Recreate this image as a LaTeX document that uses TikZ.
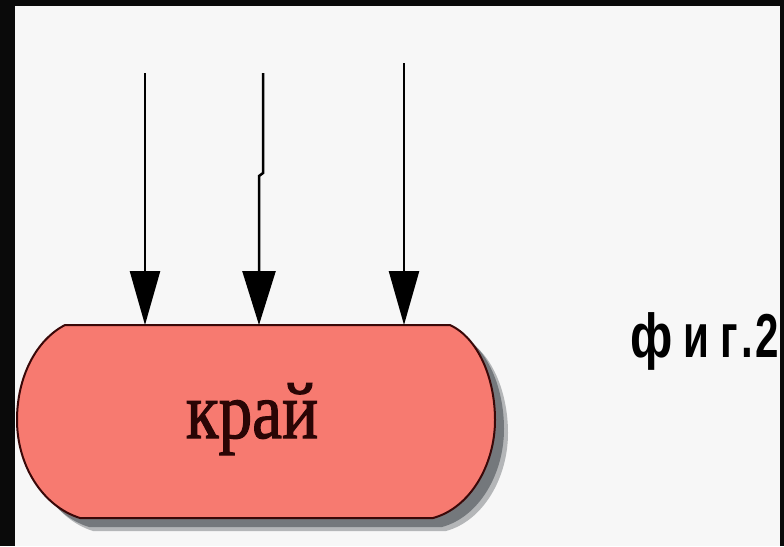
\documentclass[tikz,border=0pt]{standalone}
\usepackage{fontspec}
\setmainfont{Liberation Serif}
\newfontfamily\figfont{Liberation Sans}
\newfontfamily\labelfont[FakeBold=1.6]{Liberation Serif}
\usetikzlibrary{arrows.meta}
\definecolor{bg}{HTML}{F7F7F7}
\definecolor{framecol}{HTML}{0A0A0A}
\definecolor{salmonfill}{HTML}{F77A70}
\definecolor{edgebrown}{HTML}{3A0808}
\definecolor{shadowdark}{HTML}{74787C}
\definecolor{shadowlight}{HTML}{B4B6B8}
\definecolor{txtbrown}{HTML}{2A0505}
\newcommand\capsulepath{(65,325) -- (450,325) .. controls (478,338) and (495,378) .. (495,420) .. controls (495,465) and (470,508) .. (433,518) -- (80,518) .. controls (42,506) and (17,465) .. (17,420) .. controls (17,377) and (36,340) .. (65,325) -- cycle}
\begin{document}
\begin{tikzpicture}[x=1pt,y=-1pt,
  flow/.style={draw=black,line width=2.5pt,-{Triangle[length=54pt,width=30pt]}},
  flowwide/.style={flow,-{Triangle[length=54pt,width=33pt]}},
  capsule/.style={fill=salmonfill,draw=edgebrown,line width=2pt},
  labeltxt/.style={text=txtbrown,font=\labelfont\fontsize{80}{80}\selectfont,inner sep=0pt},
  figtxt/.style={text=black,font=\figfont\bfseries\fontsize{62}{62}\selectfont,inner sep=0pt}]
\useasboundingbox (0,0) rectangle (784,546);
\fill[framecol] (0,0) rectangle (784,546);
\fill[bg] (15,6) rectangle (780,546);
\begin{scope}
\clip (15,6) rectangle (780,546);
% shadow
\begin{scope}[shift={(13,13)}]
\fill[shadowlight] \capsulepath;
\end{scope}
\begin{scope}[shift={(9,9)}]
\fill[shadowdark] \capsulepath;
\end{scope}
% main shape
\path[capsule] \capsulepath;
\node[labeltxt,anchor=base] (edge) at (252,438) {\scalebox{0.84}[1]{край}};
% arrow coordinates
\coordinate (s1) at (145,73);
\coordinate (t1) at (145,325);
\coordinate (s2) at (263,73);
\coordinate (j1) at (263,173);
\coordinate (j2) at (259,176);
\coordinate (t2) at (259,325);
\coordinate (s3) at (404,63);
\coordinate (t3) at (404,325);
\draw[flow] (s1) -- (t1);
\draw[flowwide] (s2) -- (j1) -- (j2) -- (t2);
\draw[flow] (s3) -- (t3);
% caption
\node[figtxt,anchor=base west] (cap) at (630,357) {\scalebox{0.78}[1]{ф}\hspace{11pt}\scalebox{0.68}[1]{и}\hspace{11pt}\scalebox{0.68}[1]{г}\hspace{3pt}\scalebox{0.68}[1]{.}\hspace{3pt}\scalebox{0.68}[1]{2}};
\end{scope}
\end{tikzpicture}
\end{document}
